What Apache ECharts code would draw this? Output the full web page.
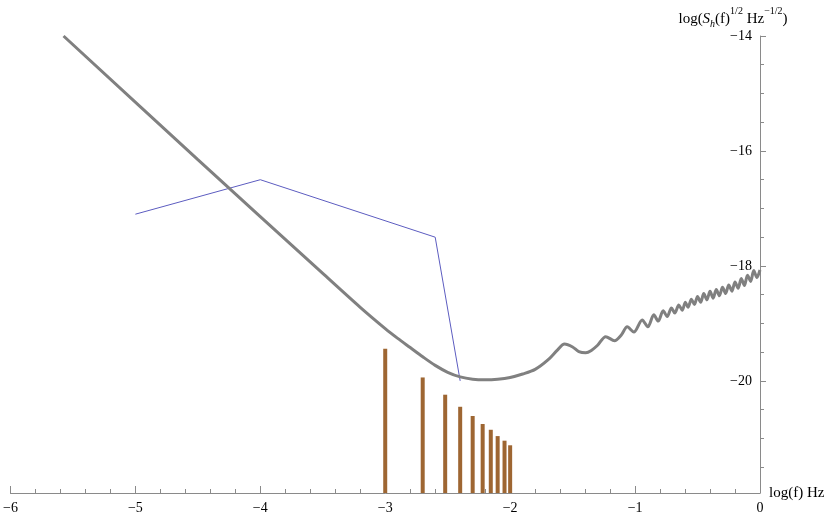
<!DOCTYPE html>
<html>
<head>
<meta charset="utf-8">
<script src="https://cdn.jsdelivr.net/npm/echarts@6/dist/echarts.min.js"></script>
<style>
  html, body { margin: 0; padding: 0; background: #fff; }
  #chart { width: 830px; height: 521px; }
</style>
</head>
<body>
<div id="chart"></div>
<script>
// noise curve (log f, log sqrt(Sh))
const curveX = [-5.575, -4.5, -3.5, -3.2, -3.0, -2.9, -2.8, -2.7, -2.6, -2.5, -2.4, -2.3, -2.2, -2.1, -2.0, -1.9, -1.8, -1.7, -1.62, -1.565, -1.5, -1.45, -1.395, -1.35, -1.3, -1.235, -1.164, -1.11, -1.063, -1.01, -0.943, -0.898, -0.85, -0.815, -0.775, -0.743, -0.709, -0.682, -0.65, -0.623, -0.597, -0.576, -0.549, -0.525, -0.5, -0.475, -0.45, -0.425, -0.4, -0.375, -0.35, -0.325, -0.3, -0.275, -0.25, -0.225, -0.2, -0.175, -0.15, -0.125, -0.1, -0.075, -0.05, -0.025, 0];
const curveY = [-14.0, -16.15, -18.13, -18.72, -19.09, -19.26, -19.42, -19.58, -19.73, -19.85, -19.93, -19.97, -19.98, -19.97, -19.94, -19.88, -19.80, -19.64, -19.46, -19.36, -19.41, -19.49, -19.51, -19.47, -19.38, -19.23, -19.30, -19.20, -19.06, -19.15, -18.94, -19.06, -18.85, -18.96, -18.78, -18.88, -18.73, -18.82, -18.68, -18.77, -18.63, -18.72, -18.58, -18.67, -18.53, -18.63, -18.48, -18.59, -18.44, -18.56, -18.41, -18.52, -18.37, -18.48, -18.33, -18.44, -18.28, -18.39, -18.22, -18.34, -18.16, -18.27, -18.08, -18.20, -18.07];

// thin blue polyline
const lineX = [-5.0, -4.0, -2.6, -2.4];
const lineY = [-17.1, -16.5, -17.5, -20.0];

// harmonic bars
const barX = [-3.0, -2.70, -2.52, -2.40, -2.30, -2.22, -2.155, -2.10, -2.045, -2.0];
const barTop = [-19.44, -19.94, -20.24, -20.45, -20.61, -20.75, -20.85, -20.96, -21.04, -21.12];

// tick values
const yLabelTicks = [-20, -18, -16, -14];
const yMinorTicks = [-21.5, -21, -20.5, -19.5, -19, -18.5, -17.5, -17, -16.5, -15.5, -15, -14.5];

const yMin = -21.95, yMax = -14;
const fontFam = "'Liberation Serif', 'Times New Roman', serif";
const axisGray = "#8a8a8a";

const chart = echarts.init(document.getElementById("chart"));

const option = {
  animation: false,
  grid: { left: 8, right: 70, top: 36, bottom: 28 },
  xAxis: {
    type: "value",
    min: -6,
    max: 0,
    interval: 1,
    name: "log(f) Hz",
    nameLocation: "end",
    nameGap: 9,
    nameTextStyle: { color: "#000", fontFamily: fontFam, fontSize: 15 },
    axisLine: { onZero: false, lineStyle: { color: axisGray, width: 1 } },
    axisTick: { inside: true, length: 7, lineStyle: { color: axisGray } },
    minorTick: { show: true, splitNumber: 5, length: 4, lineStyle: { color: axisGray } },
    splitLine: { show: false },
    axisLabel: {
      color: "#000",
      fontFamily: fontFam,
      fontSize: 14,
      margin: 8,
      formatter: function (v) { return String(v).replace("-", "\u2212"); }
    }
  },
  yAxis: [
    {
      type: "value",
      position: "right",
      min: yMin,
      max: yMax,
      name: "{n|log(}{i|S}{sub|h}{n|(f)}{sup|1/2}{n| Hz}{sup|\u22121/2}{n|)}",
      nameLocation: "end",
      nameGap: 8,
      nameTextStyle: {
        padding: [0, 54, 0, 0],
        rich: {
          n: { fontFamily: fontFam, fontSize: 15, color: "#000", lineHeight: 20, verticalAlign: "bottom" },
          i: { fontFamily: fontFam, fontSize: 15, fontStyle: "italic", color: "#000", lineHeight: 20, verticalAlign: "bottom" },
          sub: { fontFamily: fontFam, fontSize: 10, fontStyle: "italic", color: "#000", lineHeight: 14, verticalAlign: "bottom", padding: [0, 0, -3, 0] },
          sup: { fontFamily: fontFam, fontSize: 10, color: "#000", lineHeight: 14, verticalAlign: "top" }
        }
      },
      axisLine: { show: true, lineStyle: { color: axisGray, width: 1 } },
      axisTick: { show: true, inside: false, length: 6, customValues: yLabelTicks, lineStyle: { color: axisGray } },
      splitLine: { show: false },
      axisLabel: {
        inside: true,
        margin: 8,
        color: "#000",
        fontFamily: fontFam,
        fontSize: 14,
        customValues: yLabelTicks,
        formatter: function (v) { return String(v).replace("-", "\u2212"); }
      }
    },
    {
      type: "value",
      position: "right",
      min: yMin,
      max: yMax,
      axisLine: { show: false },
      axisTick: { show: true, inside: false, length: 4, customValues: yMinorTicks, lineStyle: { color: axisGray } },
      axisLabel: { show: false },
      splitLine: { show: false }
    }
  ],
  series: [
    {
      type: "custom",
      z: 1,
      data: barX.map(function (x, i) { return [x, barTop[i]]; }),
      renderItem: function (params, api) {
        var top = api.coord([api.value(0), api.value(1)]);
        var base = api.coord([api.value(0), yMin]);
        return {
          type: "rect",
          shape: { x: top[0] - 2, y: top[1], width: 4, height: base[1] - top[1] },
          style: { fill: "#9e6632" }
        };
      }
    },
    {
      type: "line",
      z: 2,
      data: lineX.map(function (x, i) { return [x, lineY[i]]; }),
      showSymbol: false,
      lineStyle: { color: "#5c5cc0", width: 1 }
    },
    {
      type: "line",
      z: 3,
      data: curveX.map(function (x, i) { return [x, curveY[i]]; }),
      showSymbol: false,
      smooth: 0.3,
      clip: true,
      lineStyle: { color: "#808080", width: 3 }
    }
  ]
};

chart.setOption(option);
</script>
</body>
</html>
